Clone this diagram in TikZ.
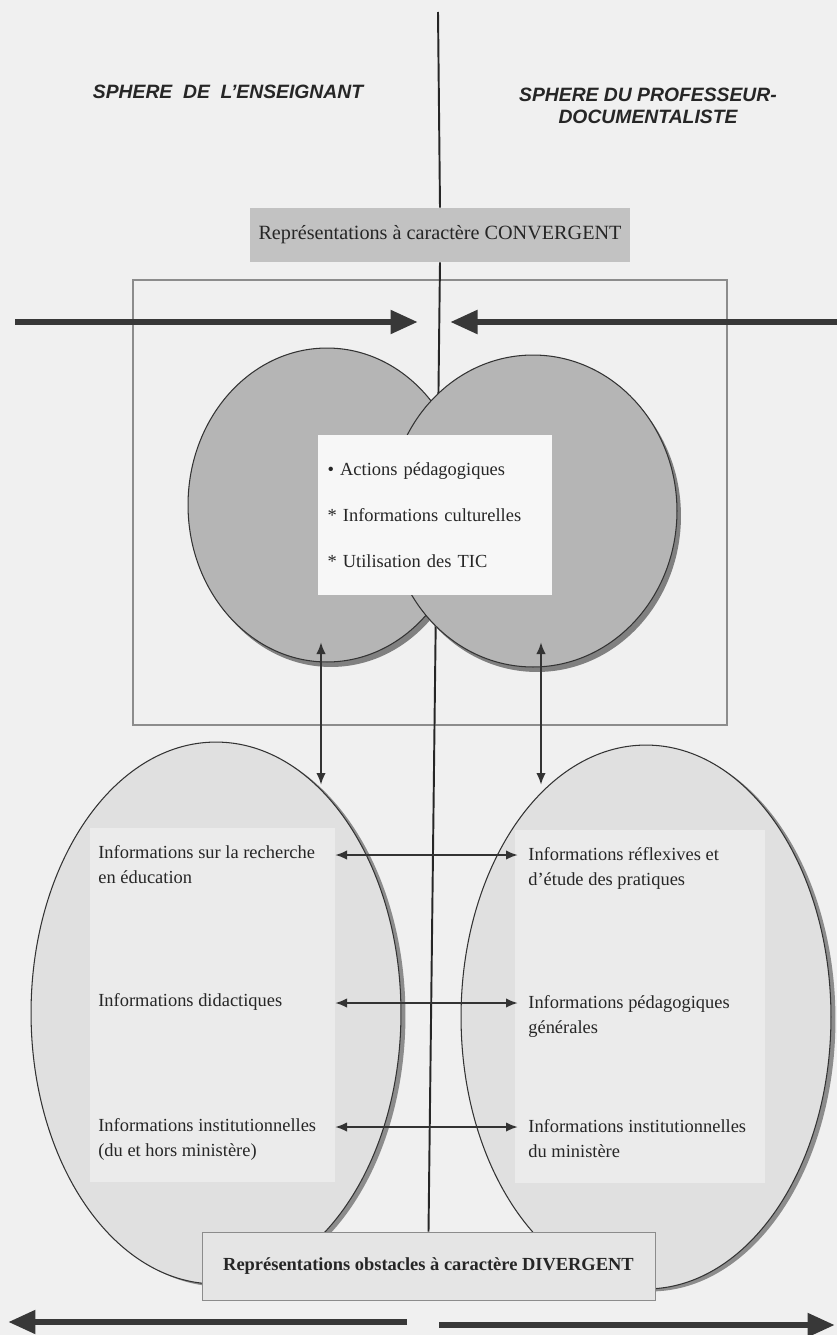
\documentclass[tikz,border=0pt]{standalone}
\usepackage{fontspec}
\setmainfont{Liberation Serif}
\newfontfamily\headfont{Liberation Sans}
\usetikzlibrary{arrows.meta,shapes.geometric,shadows}

\begin{document}
\begin{tikzpicture}[x=0.02cm,y=-0.02cm,>={Latex[length=0.24cm,width=0.19cm]}]
\tikzset{
  sphere/.style={draw=black!80,shape=ellipse,inner sep=0pt,line width=0.6pt},
  lobe/.style={sphere,fill=black!29,drop shadow={shadow xshift=0.08cm,shadow yshift=-0.1cm,fill=black!50,opacity=1}},
  field/.style={sphere,fill=black!12,drop shadow={shadow xshift=0.09cm,shadow yshift=-0.05cm,fill=black!45,opacity=1}},
  panel/.style={fill=black!8},
  info/.style={anchor=north west,inner sep=0pt,align=left,text=black!85,font=\fontsize{10.5}{14.2}\selectfont},
  head/.style={align=center,text=black!85,font=\headfont\bfseries\itshape\fontsize{11}{12.5}\selectfont},
  convbox/.style={fill=black!24,minimum width=7.6cm,minimum height=1.08cm,text=black!85,font=\fontsize{11.5}{14}\selectfont},
  divbox/.style={draw=black!45,fill=black!10,minimum width=9.06cm,minimum height=1.36cm,text=black!85,font=\bfseries\fontsize{10.5}{13}\selectfont},
  actbox/.style={fill=black!3,text width=4.3cm,inner xsep=0.2cm,minimum height=3.2cm,align=left,text=black!85,font=\fontsize{10.5}{26}\selectfont},
  bigarrow/.style={-{Triangle[length=0.55cm,width=0.45cm]},line width=0.13cm,black!78},
  link/.style={<->,line width=1.3pt,black!80},
  axis/.style={line width=1.1pt,black!85}
}
\fill[black!6] (0,0) rectangle (837,1335);
\useasboundingbox (0,0) rectangle (837,1335);

% headers
\node[head] (hL) at (228,92) {SPHERE\ \ DE\ \ L’ENSEIGNANT};
\node[head] (hR) at (648,106) {SPHERE DU PROFESSEUR-\\DOCUMENTALISTE};

% frame round the convergent part
\draw[black!45,line width=0.6pt] (133,280) rectangle (727,725);

% divergent spheres
\node[field,minimum width=7.4cm,minimum height=10.84cm] (botL) at (216,1013) {};
\node[field,minimum width=7.4cm,minimum height=10.88cm] (botR) at (646,1017) {};
\fill[panel] (90,828) rectangle (335,1182);
\fill[panel] (515,830) rectangle (765,1183);

% boxes and axis
\node[convbox] (conv) at (440,235) {Représentations à caractère CONVERGENT};
\node[divbox] (div) at (428.5,1266) {Représentations obstacles à caractère DIVERGENT};
\coordinate (axisTop) at (438,12);
\draw[axis] (axisTop) -- (conv.north);
\draw[axis] (conv.south) -- (div.north);

% convergent spheres
\node[lobe,minimum width=5.56cm,minimum height=6.28cm] (topL) at (327,505) {};
\node[lobe,minimum width=5.76cm,minimum height=6.24cm] (topR) at (533,511) {};
\node[actbox] (acts) at (435,515) {\textbullet\ Actions pédagogiques\\{}*\ Informations culturelles\\{}*\ Utilisation des TIC};

% big arrows
\coordinate (westIn) at (15,322);
\coordinate (westTip) at (418,322);
\coordinate (eastIn) at (837,322);
\coordinate (eastTip) at (450,322);
\draw[bigarrow] (westIn) -- (westTip);
\draw[bigarrow] (eastIn) -- (eastTip);
\coordinate (westOut) at (407,1322);
\coordinate (westEnd) at (8,1322);
\coordinate (eastOut) at (439,1325);
\coordinate (eastEnd) at (835,1325);
\draw[bigarrow] (westOut) -- (westEnd);
\draw[bigarrow] (eastOut) -- (eastEnd);

% links between spheres
\coordinate (lUp) at (321,642);
\coordinate (lDn) at (321,785);
\coordinate (rUp) at (541,642);
\coordinate (rDn) at (541,785);
\draw[link] (lUp) -- (lDn);
\draw[link] (rUp) -- (rDn);

% information items
\node[info] (l1) at (98,845) {Informations sur la recherche\\en éducation};
\node[info] (l2) at (98,993) {Informations didactiques};
\node[info] (l3) at (98,1118) {Informations institutionnelles\\(du et hors ministère)};
\node[info] (r1) at (528,847) {Informations réflexives et\\d’étude des pratiques};
\node[info] (r2) at (528,995) {Informations pédagogiques\\générales};
\node[info] (r3) at (528,1119) {Informations institutionnelles\\du ministère};

\coordinate (colL) at (335,0);
\coordinate (colR) at (518,0);
\foreach \n/\y in {1/855,2/1003,3/1127} {
  \coordinate (row\n) at (0,\y);
  \draw[link] (colL |- row\n) -- (colR |- row\n);
}
\end{tikzpicture}
\end{document}
